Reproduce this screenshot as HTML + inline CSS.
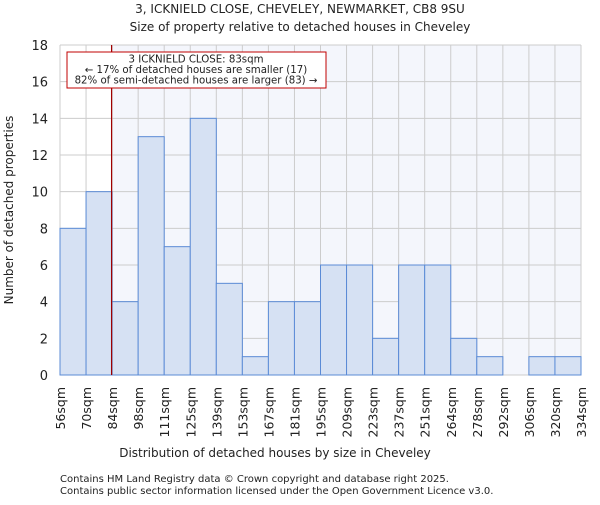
<!DOCTYPE html>
<html><head><meta charset="utf-8"><style>
body{margin:0;background:#fff;font-family:"Liberation Sans","DejaVu Sans",sans-serif}
svg text{font-family:"DejaVu Sans","Liberation Sans",sans-serif;fill:#222}
</style></head><body>
<svg id="c" width="600" height="500" viewBox="0 0 600 500">
<text x="300" y="13" font-size="12" text-anchor="middle">3, ICKNIELD CLOSE, CHEVELEY, NEWMARKET, CB8 9SU</text>
<text x="300" y="31" font-size="12" text-anchor="middle">Size of property relative to detached houses in Cheveley</text>
<g id="plot"></g>
<text x="275" y="457" font-size="12" text-anchor="middle">Distribution of detached houses by size in Cheveley</text>
<text transform="translate(13,210) rotate(-90)" font-size="12" text-anchor="middle">Number of detached properties</text>
<text x="60" y="482" font-size="10">Contains HM Land Registry data © Crown copyright and database right 2025.</text>
<text x="60" y="494" font-size="10">Contains public sector information licensed under the Open Government Licence v3.0.</text>
</svg>
<script>
const categories=["56sqm","70sqm","84sqm","98sqm","111sqm","125sqm","139sqm","153sqm","167sqm","181sqm","195sqm","209sqm","223sqm","237sqm","251sqm","264sqm","278sqm","292sqm","306sqm","320sqm","334sqm"];
const counts=[8,10,4,13,7,14,5,1,4,4,6,6,2,6,6,2,1,0,1,1];
const yTicks=[0,2,4,6,8,10,12,14,16,18];
const markerBin=1.98;
const NS="http://www.w3.org/2000/svg";
const g=document.getElementById('plot');
const X0=60,X1=581,Y0=375,Y1=45,YMAX=18;
const bw=(X1-X0)/counts.length;
const xs=i=>X0+i*bw;
const ys=v=>Y0-(v/YMAX)*(Y0-Y1);
function mk(t,a){const e=document.createElementNS(NS,t);for(const k in a)e.setAttribute(k,a[k]);g.appendChild(e);return e;}
const mx=xs(markerBin);
let bg=mk('rect',{x:X0,y:Y1,width:mx-X0,height:Y0-Y1,fill:'#ffffff'});


let bg2=mk('rect',{x:mx,y:Y1,width:X1-mx,height:Y0-Y1,fill:'#f4f6fc'});


yTicks.forEach(v=>{
 let l=mk('line',{x1:X0,x2:X1,y1:ys(v),y2:ys(v),stroke:'#cccccc','stroke-width':1});
 
 
 let t=mk('text',{x:X0-12,y:ys(v)+5,'font-size':13,'text-anchor':'end'});t.textContent=v;
 
 
});
categories.forEach((c,i)=>{
 let l=mk('line',{x1:xs(i),x2:xs(i),y1:Y1,y2:Y0,stroke:'#cccccc','stroke-width':1});
 
 
 let t=mk('text',{transform:`translate(${xs(i)+5},${Y0+12}) rotate(-90)`,'font-size':12.5,'text-anchor':'end'});t.textContent=c;
 
 
});
counts.forEach((v,i)=>{
 let r=mk('rect',{x:xs(i),y:ys(v),width:bw,height:Y0-ys(v),fill:'#d6e1f3',stroke:'#5b8bd6','stroke-width':1});
 
 
});
let ml=mk('line',{x1:mx,x2:mx,y1:Y1,y2:Y0,stroke:'#a00000','stroke-width':1.2});


let box=mk('rect',{x:67,y:52,width:259,height:36,fill:'#fff',stroke:'#c00000','stroke-width':1});


["3 ICKNIELD CLOSE: 83sqm","← 17% of detached houses are smaller (17)","82% of semi-detached houses are larger (83) →"].forEach((s,i)=>{
 let t=mk('text',{x:196,y:62.5+i*10.5,'font-size':10.2,'text-anchor':'middle'});t.textContent=s;
 
 
});
</script>
</body></html>
